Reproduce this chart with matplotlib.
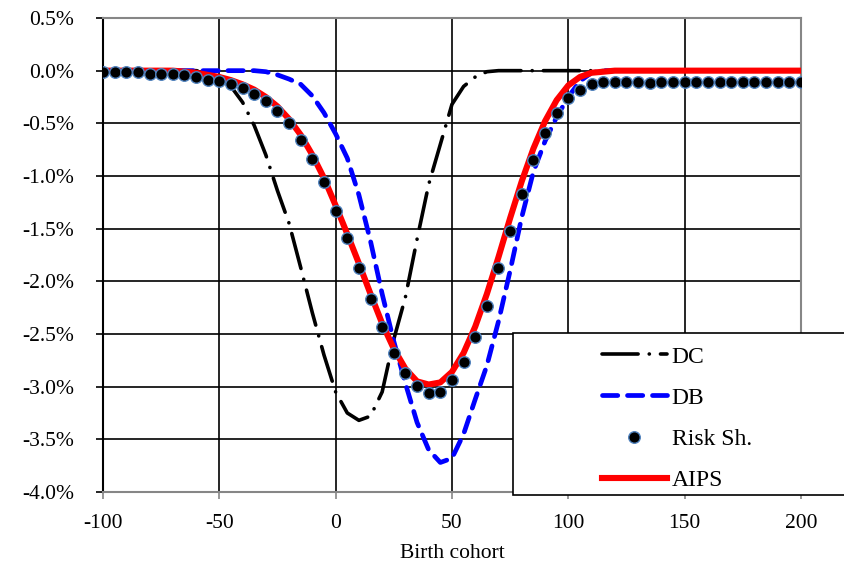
import numpy as np
import matplotlib
matplotlib.use("Agg")
import matplotlib.pyplot as plt
from matplotlib.patches import Rectangle
from matplotlib.ticker import FuncFormatter

plt.rcParams['font.family'] = ['Liberation Serif', 'DejaVu Serif']
plt.rcParams['lines.scale_dashes'] = False
plt.rcParams['axes.unicode_minus'] = False

# birth cohorts, every 5 years
cohort = list(range(-100, 201, 5))

# values in percent
dc = [0, 0, 0, 0, 0, 0, 0, 0, 0, -0.02, -0.06, -0.15, -0.30, -0.52, -0.80, -1.14,
      -1.45, -1.87, -2.30, -2.70, -3.05, -3.25, -3.32, -3.28, -3.05, -2.55, -2.15,
      -1.60, -1.08, -0.70, -0.32, -0.15, -0.06, -0.01] + [0] * 27

db = [0] * 14 + [-0.01, -0.04, -0.08, -0.13, -0.24, -0.40, -0.60, -0.83, -1.18,
      -1.62, -2.12, -2.57, -2.97, -3.34, -3.60, -3.72, -3.68, -3.45, -3.12, -2.80,
      -2.38, -1.90, -1.39, -0.96, -0.67, -0.44, -0.25, -0.10, -0.02] + [0] * 18

risk_sh = [-0.01, -0.01, -0.01, -0.01, -0.03, -0.03, -0.03, -0.04, -0.06, -0.085,
           -0.10, -0.13, -0.16, -0.22, -0.29, -0.38, -0.50, -0.655, -0.835, -1.06,
           -1.33, -1.585, -1.87, -2.17, -2.43, -2.68, -2.87, -2.99, -3.06, -3.05,
           -2.94, -2.77, -2.53, -2.23, -1.87, -1.52, -1.17, -0.845, -0.59, -0.40,
           -0.256, -0.18, -0.13, -0.11, -0.11, -0.11, -0.11, -0.12, -0.11, -0.11,
           -0.11, -0.11, -0.11, -0.11, -0.11, -0.11, -0.11, -0.11, -0.11, -0.11, -0.11]

aips = [0] * 7 + [-0.01, -0.02, -0.04, -0.06, -0.09, -0.13, -0.18, -0.25, -0.34,
        -0.46, -0.61, -0.80, -1.02, -1.28, -1.55, -1.83, -2.12, -2.40, -2.64, -2.83,
        -2.95, -2.98, -2.96, -2.86, -2.68, -2.43, -2.12, -1.77, -1.40, -1.05, -0.74,
        -0.48, -0.28, -0.14, -0.06, -0.02, -0.01] + [0] * 17

fig = plt.figure(figsize=(8.44, 5.71), dpi=100)
ax = fig.add_axes([0.122, 0.1384, 0.827, 0.8301])

l_dc, = ax.plot(cohort, dc, color='black', lw=2.6, dashes=(26, 8, 0.1, 8),
                dash_capstyle='round', zorder=3)
l_db, = ax.plot(cohort, db, color='#0000FF', lw=3.4, dashes=(11, 7),
                dash_capstyle='round', zorder=3)
l_ai, = ax.plot(cohort, aips, color='#FF0000', lw=4.4, zorder=4)
l_rs, = ax.plot(cohort, risk_sh, ls='none', marker='o', ms=8.3, mfc='black',
                mec='#4F81BD', mew=1.0, zorder=5)

ax.set_xlim(-100, 200)
ax.set_ylim(-4.0, 0.5)
ax.set_xticks(range(-100, 201, 50))
ax.set_yticks(np.arange(-4.0, 0.51, 0.5))
ax.yaxis.set_major_formatter(FuncFormatter(lambda v, p: f"{v:.1f}%"))
ax.grid(True, color='black', lw=1.2)
ax.set_axisbelow(True)

for s in ['top', 'right', 'bottom']:
    ax.spines[s].set_color('#868686')
    ax.spines[s].set_linewidth(1.5)
ax.spines['left'].set_color('black')
ax.spines['left'].set_linewidth(1.5)

ax.tick_params(axis='y', length=5, width=1.2, color='black', pad=16, labelsize=15.5)
ax.tick_params(axis='x', length=5, width=1.2, color='#868686', pad=11, labelsize=15.5)
ax.set_xlabel('Birth cohort', fontsize=15.5, labelpad=8)

# legend box sticks out past the plot on the right, like the original
fig.add_artist(Rectangle((0.6078, 0.1331), 0.45, 0.2837, transform=fig.transFigure,
                         facecolor='white', edgecolor='black', lw=1.2, zorder=5))
leg = fig.legend([l_dc, l_db, l_rs, l_ai], ['DC', 'DB', 'Risk Sh.', 'AIPS'],
                 loc='upper left', bbox_to_anchor=(602 / 844, 1 - 346 / 571),
                 frameon=False, borderpad=0, borderaxespad=0, fontsize=17,
                 handlelength=2.75, handletextpad=0.2, labelspacing=0.83)
leg.set_zorder(6)

fig.savefig('out.png', dpi=100)
